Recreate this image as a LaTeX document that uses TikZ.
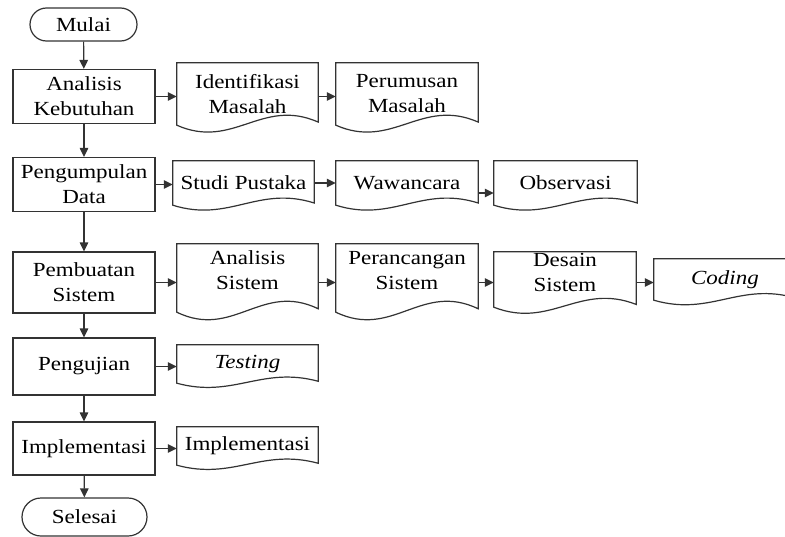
\documentclass[tikz,border=0pt]{standalone}
\usepackage{fontspec}
\setmainfont[FakeStretch=1.15]{Liberation Serif}
\usetikzlibrary{arrows.meta,calc}
\tikzset{
  line/.style={draw=black!80, line width=1.2pt},
  arr/.style={draw=black!80, line width=1.2pt, -{Triangle[length=9pt,width=8.5pt]}},
  txt/.style={font=\fontsize{20}{25}\selectfont, align=center, inner sep=0pt},
  procbox/.style={line, txt, rectangle, minimum width=142pt},
  termbox/.style={line, txt, rectangle},
  docbox/.style={txt, rectangle},
}
\newcommand\docoutline[1]{%
  \draw[line] let \p1=(#1.north west), \p2=(#1.south east), \n1={\y1-\y2}, \n2={\x2-\x1} in
  (\x1,\y1) -- (\x2,\y1) -- (\x2,{\y2+0.05*\n1})
  .. controls ({\x1+0.6*\n2},{\y2+0.45*\n1}) and ({\x1+0.4*\n2},{\y2-0.4*\n1}) .. (\x1,\y2) -- cycle;}
\newcommand\up{\\[-10pt]\mbox{}}
\begin{document}
\begin{tikzpicture}[x=1pt,y=-1pt]
\useasboundingbox[fill=white] (0,0) rectangle (785,536);
% main column
\node[termbox, minimum width=107pt, minimum height=33pt, rounded corners=16.5pt] (mulai) at (83.5,24.5) {Mulai};
\node[procbox, minimum height=54pt] (ak) at (84,96.5) {Analisis\\Kebutuhan};
\node[procbox, minimum height=54pt] (pd) at (84,184.5) {Pengumpulan\\Data};
\node[procbox, minimum height=61pt] (ps) at (84,282.5) {Pembuatan\\Sistem};
\node[procbox, minimum height=57pt] (pj) at (84,366.5) {Pengujian};
\node[procbox, minimum height=53pt] (im) at (84,448.5) {Implementasi};
\node[termbox, minimum width=125pt, minimum height=38pt, rounded corners=19pt] (sel) at (84.5,517) {Selesai};
% documents
\node[docbox, minimum width=141pt, minimum height=62pt] (id) at (247.5,94) {Identifikasi\\Masalah};
\node[docbox, minimum width=142pt, minimum height=62pt] (pm) at (407,94) {Perumusan\\Masalah};
\node[docbox, minimum width=141pt, minimum height=44pt] (sp) at (243.5,183) {Studi Pustaka};
\node[docbox, minimum width=142pt, minimum height=44pt] (ww) at (407,183) {Wawancara};
\node[docbox, minimum width=143pt, minimum height=44pt] (ob) at (565.5,183) {Observasi};
\node[docbox, minimum width=141pt, minimum height=68pt] (as) at (247.5,278) {Analisis\\Sistem\up};
\node[docbox, minimum width=142pt, minimum height=68pt] (pr) at (407,278) {Perancangan\\Sistem\up};
\node[docbox, minimum width=142pt, minimum height=55pt] (ds) at (565,279.5) {Desain\\Sistem\up};
\node[docbox, minimum width=142pt, minimum height=41pt] (cd) at (725,279.5) {\itshape Coding};
\node[docbox, minimum width=141pt, minimum height=38pt] (ts) at (247.5,364) {\itshape Testing};
\node[docbox, minimum width=141pt, minimum height=38pt] (imd) at (247.5,446) {Implementasi};
\foreach \dn in {id,pm,sp,ww,ob,as,pr,ds,cd,ts,imd} {\docoutline{\dn}}
% vertical connectors
\draw[arr] (mulai) -- (ak);
\draw[arr] (ak) -- (pd);
\draw[arr] (pd) -- (ps);
\draw[arr] (ps) -- (pj);
\draw[arr] (pj) -- (im);
\draw[arr] (im) -- (sel);
% horizontal connectors
\draw[arr] (ak.east) -- (ak.east -| id.west);
\draw[arr] (ak.east -| id.east) -- (ak.east -| pm.west);
\draw[arr] (pd.east) -- (pd.east -| sp.west);
\draw[arr] (sp.east) -- (sp.east -| ww.west);
\draw[arr] ([yshift=-10pt]ww.east) -- ([yshift=-10pt]ww.east -| ob.west);
\draw[arr] (ps.east) -- (ps.east -| as.west);
\draw[arr] (ps.east -| as.east) -- (ps.east -| pr.west);
\draw[arr] (ps.east -| pr.east) -- (ps.east -| ds.west);
\draw[arr] (ps.east -| ds.east) -- (ps.east -| cd.west);
\draw[arr] (pj.east) -- (pj.east -| ts.west);
\draw[arr] (im.east) -- (im.east -| imd.west);
\end{tikzpicture}
\end{document}
